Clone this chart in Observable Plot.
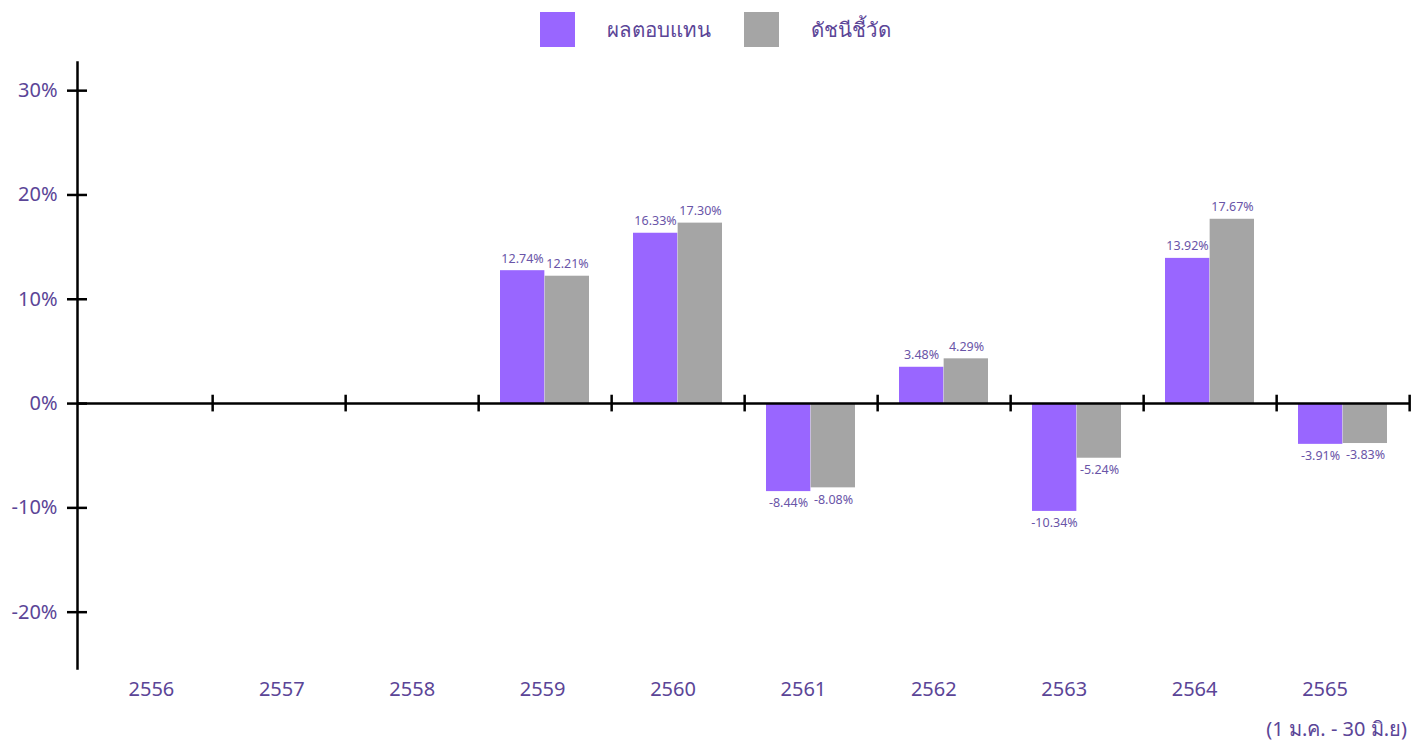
<!DOCTYPE html>
<html>
<head>
<meta charset="utf-8">
<script src="https://cdn.jsdelivr.net/npm/d3@7"></script>
<script src="https://cdn.jsdelivr.net/npm/@observablehq/plot@0.6"></script>
<style>
  html, body { margin: 0; padding: 0; background: #fff; }
  body { width: 1424px; height: 742px; overflow: hidden; font-family: "Noto Sans", "Open Sans", sans-serif; color: #5b4597; position: relative; }
  #legend { height: 58px; display: flex; justify-content: center; align-items: flex-start; box-sizing: border-box; padding-left: 6px; }
  .item { display: flex; align-items: center; margin-top: 12px; }
  .sw { width: 35px; height: 35px; }
  .lab { font-size: 20.5px; margin-left: 32px; margin-right: 33px; line-height: 35px; }
  .item:last-child .lab { margin-right: 0; }
  #chart svg { display: block; }
  #caption { position: absolute; right: 17px; top: 714px; font-size: 20px; line-height: 30px; }
</style>
</head>
<body>
<div id="legend"></div>
<div id="chart"></div>
<div id="caption"></div>
<script>
const years = ["2556", "2557", "2558", "2559", "2560", "2561", "2562", "2563", "2564", "2565"];
const returnValues = [null, null, null, 12.74, 16.33, -8.44, 3.48, -10.34, 13.92, -3.91];
const indexValues  = [null, null, null, 12.21, 17.30, -8.08, 4.29, -5.24, 17.67, -3.83];
const seriesNames = ["ผลตอบแทน", "ดัชนีชี้วัด"];
const seriesColors = ["#9966ff", "#a5a5a5"];
const yTicks = [-20, -10, 0, 10, 20, 30];
const captionText = "(1 ม.ค. - 30 มิ.ย)";

const textColor = "#5b4597";
const labelColor = "#6a55a8";
const width = 1424, height = 655;
const marginLeft = 77, marginRight = 14;
const bw = (width - marginLeft - marginRight) / years.length;
// category labels in the reference sit on a slightly narrower spacing than the bands
const labelStep = 130.7, labelShift = 6.7;

const rows = (vals) => years.map((y, i) => ({year: y, value: vals[i]})).filter(d => d.value != null);
const retRows = rows(returnValues);
const idxRows = rows(indexValues);
const fmt = v => v.toFixed(2) + "%";

// legend
const legend = document.getElementById("legend");
seriesNames.forEach((n, i) => {
  const it = document.createElement("div");
  it.className = "item";
  it.innerHTML = `<div class="sw" style="background:${seriesColors[i]}"></div><div class="lab">${n}</div>`;
  legend.appendChild(it);
});
document.getElementById("caption").textContent = captionText;

function labels(data, dx) {
  return [
    Plot.text(data.filter(d => d.value >= 0), {x: "year", y: "value", text: d => fmt(d.value), dx,
      lineAnchor: "bottom", dy: -8, fill: labelColor, fontSize: 12.5}),
    Plot.text(data.filter(d => d.value < 0), {x: "year", y: "value", text: d => fmt(d.value), dx,
      lineAnchor: "top", dy: 7, fill: labelColor, fontSize: 12.5})
  ];
}

const xLabels = years.map((y, i) =>
  Plot.text([y], {x: d => d, frameAnchor: "bottom", text: d => d, lineAnchor: "top", dy: 13,
    dx: labelShift + (i + 0.5) * (labelStep - bw), fontSize: 20, fill: textColor})
);

const plot = Plot.plot({
  width, height,
  marginLeft, marginRight, marginTop: 4, marginBottom: 45,
  style: {fontFamily: "'Noto Sans', 'Open Sans', sans-serif", color: textColor, background: "#fff"},
  x: {domain: years, padding: 0, label: null, axis: null},
  y: {domain: [-25.4, 32.7], label: null},
  marks: [
    Plot.barY(retRows, {x: "year", y: "value", fill: seriesColors[0], insetLeft: 22, insetRight: bw / 2}),
    Plot.barY(idxRows, {x: "year", y: "value", fill: seriesColors[1], insetLeft: bw / 2, insetRight: 22}),
    ...labels(retRows, -22.5),
    ...labels(idxRows, 22.5),
    Plot.ruleY([0], {stroke: "#000", strokeWidth: 2.5}),
    Plot.ruleX(years, {x: d => d, dx: bw / 2, y1: -0.8, y2: 0.8, stroke: "#000", strokeWidth: 2.5}),
    Plot.frame({anchor: "left", stroke: "#000", strokeWidth: 2.5}),
    Plot.axisY({ticks: yTicks, tickSize: 20, dx: 10, tickPadding: 10, tickFormat: d => d + "%",
      fontSize: 20, stroke: "#000", strokeWidth: 2.5, fill: textColor, label: null}),
    ...xLabels
  ]
});
document.getElementById("chart").appendChild(plot);
</script>
</body>
</html>
